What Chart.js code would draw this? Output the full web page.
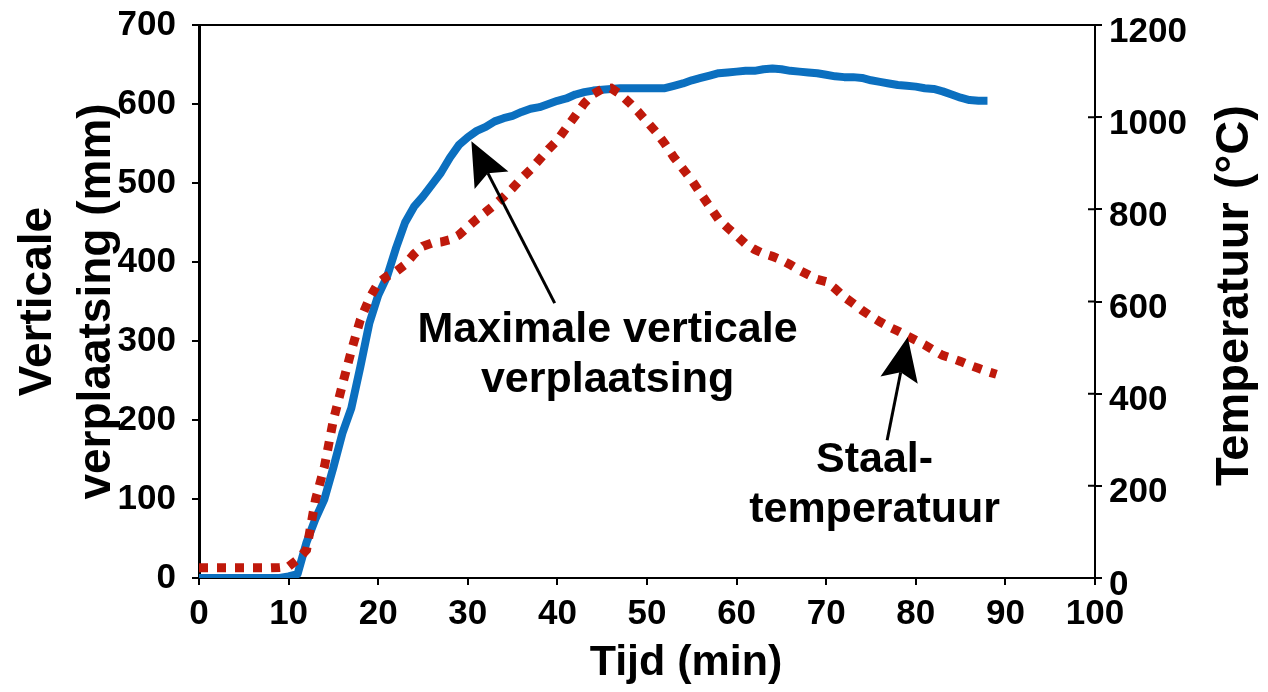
<!DOCTYPE html>
<html>
<head>
<meta charset="utf-8">
<script src="https://cdn.jsdelivr.net/npm/chart.js@4.4.0/dist/chart.umd.min.js"></script>
<style>
  html, body { margin: 0; padding: 0; background: #fff; }
</style>
</head>
<body>
<canvas id="myChart" width="1268" height="692"></canvas>
<script>
// Vertical displacement (mm, left axis) per minute
const tijdVerpl = [
    0, 1, 2, 3, 4, 5, 6, 7, 8, 9,
    10, 11, 12, 13, 14, 15, 16, 17, 18, 19,
    20, 21, 22, 23, 24, 25, 26, 27, 28, 29,
    30, 31, 32, 33, 34, 35, 36, 37, 38, 39,
    40, 41, 42, 43, 44, 45, 46, 47, 48, 49,
    50, 51, 52, 53, 54, 55, 56, 57, 58, 59,
    60, 61, 62, 63, 64, 65, 66, 67, 68, 69,
    70, 71, 72, 73, 74, 75, 76, 77, 78, 79,
    80, 81, 82, 83, 84, 85, 86, 87, 88
];
const verplaatsing = [
    0, 0, 0, 0, 0, 0, 0, 0, 0, 0,
    2, 5, 45, 75, 100, 140, 183, 215, 267, 322,
    358, 382, 418, 450, 470, 483, 498, 513, 532, 548,
    558, 566, 571, 578, 582, 585, 590, 594, 596, 600,
    604, 607, 612, 615, 617, 618, 619, 620, 620, 620,
    620, 620, 620, 623, 626, 630, 633, 636, 639, 640,
    641, 642, 642, 644, 645, 644, 642, 641, 640, 639,
    637, 635, 634, 634, 633, 630, 628, 626, 624, 623,
    622, 620, 619, 616, 612, 608, 605, 604, 604
];

// Steel temperature (°C, right axis) per minute
const tijdStaal = [
    0, 1, 2, 3, 4, 5, 6, 7, 8, 9,
    10, 11, 12, 13, 14, 15, 16, 17, 18, 19,
    20, 21, 22, 23, 24, 25, 26, 27, 28, 29,
    30, 31, 32, 33, 34, 35, 36, 37, 38, 39,
    40, 41, 42, 43, 44, 45, 46, 47, 48, 49,
    50, 51, 52, 53, 54, 55, 56, 57, 58, 59,
    60, 61, 62, 63, 64, 65, 66, 67, 68, 69,
    70, 71, 72, 73, 74, 75, 76, 77, 78, 79,
    80, 81, 82, 83, 84, 85, 86, 87, 88, 89
];
const staalTemp = [
    22, 22, 22, 22, 22, 22, 22, 22, 22, 23,
    25, 40, 61, 170, 242, 343, 419, 493, 560, 606,
    640, 655, 665, 680, 703, 720, 727, 729, 734, 744,
    762, 779, 794, 810, 827, 846, 867, 886, 908, 930,
    950, 977, 1003, 1030, 1050, 1061, 1063, 1050, 1032, 1012,
    990, 968, 942, 913, 888, 863, 834, 806, 778, 760,
    743, 725, 713, 704, 698, 690, 680, 668, 658, 648,
    643, 628, 610, 596, 581, 568, 556, 545, 536, 526,
    516, 506, 494, 483, 477, 470, 462, 455, 448, 442
];

// Annotations, in data units
const labelMax = ['Maximale verticale', 'verplaatsing'];
const labelMaxAt = [45.6, 314];          // min, mm
const arrowMax = [39.7, 348, 30.4, 553];  // from (min, mm) to (min, mm)
const labelStaal = ['Staal-', 'temperatuur'];
const labelStaalAt = [75.4, 256];        // min, °C
const arrowStaal = [76.8, 299, 79.1, 523]; // from (min, °C) to (min, °C)

const FONT = "'Liberation Sans', Arial, Helvetica, sans-serif";
const BLUE = '#0b6fbf';
const RED = '#bf190b';

function toPoints(xs, ys) {
    return xs.map((x, i) => ({ x: x, y: ys[i] }));
}

function drawArrow(ctx, x0, y0, x1, y1) {
    const ang = Math.atan2(y1 - y0, x1 - x0);
    const headLen = 44, headHalf = 19, notch = 8;
    const bx = x1 - headLen * Math.cos(ang);
    const by = y1 - headLen * Math.sin(ang);
    ctx.strokeStyle = '#000';
    ctx.lineWidth = 3;
    ctx.beginPath();
    ctx.moveTo(x0, y0);
    ctx.lineTo(bx + notch * Math.cos(ang), by + notch * Math.sin(ang));
    ctx.stroke();
    ctx.fillStyle = '#000';
    ctx.beginPath();
    ctx.moveTo(x1, y1);
    ctx.lineTo(bx - headHalf * Math.sin(ang), by + headHalf * Math.cos(ang));
    ctx.lineTo(bx + notch * Math.cos(ang), by + notch * Math.sin(ang));
    ctx.lineTo(bx + headHalf * Math.sin(ang), by - headHalf * Math.cos(ang));
    ctx.closePath();
    ctx.fill();
}

function drawLines(ctx, lines, cx, cy) {
    ctx.font = 'bold 43px ' + FONT;
    ctx.fillStyle = '#000';
    ctx.textAlign = 'center';
    ctx.textBaseline = 'middle';
    lines.forEach((s, i) => ctx.fillText(s, cx, cy + i * 50));
}

const overlay = {
    id: 'overlay',
    afterDatasetsDraw(chart) {
        const { ctx, chartArea: a, scales: { x, y, y2 } } = chart;
        ctx.save();
        // top edge of the plot box
        ctx.strokeStyle = '#000';
        ctx.lineWidth = 2;
        ctx.beginPath();
        ctx.moveTo(a.left, a.top);
        ctx.lineTo(a.right, a.top);
        // right axis ticks cross the axis
        y2.ticks.forEach(t => {
            const py = y2.getPixelForValue(t.value);
            ctx.moveTo(a.right - 7, py);
            ctx.lineTo(a.right, py);
        });
        ctx.stroke();

        // arrows
        drawArrow(ctx,
            x.getPixelForValue(arrowMax[0]), y.getPixelForValue(arrowMax[1]),
            x.getPixelForValue(arrowMax[2]), y.getPixelForValue(arrowMax[3]));
        drawArrow(ctx,
            x.getPixelForValue(arrowStaal[0]), y2.getPixelForValue(arrowStaal[1]),
            x.getPixelForValue(arrowStaal[2]), y2.getPixelForValue(arrowStaal[3]));

        // annotation text
        drawLines(ctx, labelMax, x.getPixelForValue(labelMaxAt[0]), y.getPixelForValue(labelMaxAt[1]));
        drawLines(ctx, labelStaal, x.getPixelForValue(labelStaalAt[0]), y2.getPixelForValue(labelStaalAt[1]));

        // x axis title, set a little right of centre as in the source figure
        ctx.font = 'bold 43px ' + FONT;
        ctx.textAlign = 'center';
        ctx.textBaseline = 'middle';
        ctx.fillText('Tijd (min)', (a.left + a.right) / 2 + 39, x.bottom - 29);

        // right axis title, reading bottom to top
        ctx.translate(y2.right - 33, (a.top + a.bottom) / 2 - 6);
        ctx.rotate(-Math.PI / 2);
        ctx.font = 'bold 47px ' + FONT;
        ctx.fillText('Temperatuur (°C)', 0, 0);
        ctx.restore();
    }
};

const tickFont = { family: FONT, size: 35, weight: 'bold' };

// keep tick-label overhang from pushing the plot box down
function noLabelPadding(scale) {
    scale.paddingTop = 0;
    scale.paddingBottom = 0;
}

const ctx = document.getElementById('myChart').getContext('2d');
const chart = new Chart(ctx, {
    type: 'line',
    data: {
        datasets: [
            {
                label: 'Staaltemperatuur',
                data: toPoints(tijdStaal, staalTemp),
                yAxisID: 'y2',
                borderColor: RED,
                borderWidth: 9,
                borderDash: [9, 9],
                borderCapStyle: 'butt',
                pointRadius: 0,
                fill: false,
                order: 0
            },
            {
                label: 'Verticale verplaatsing',
                data: toPoints(tijdVerpl, verplaatsing),
                yAxisID: 'y',
                borderColor: BLUE,
                borderWidth: 8,
                borderJoinStyle: 'round',
                pointRadius: 0,
                fill: false,
                order: 1
            }
        ]
    },
    options: {
        responsive: false,
        animation: false,
        layout: { autoPadding: false, padding: { top: 25, left: 0, right: 0, bottom: 0 } },
        plugins: {
            legend: { display: false },
            tooltip: { enabled: false }
        },
        scales: {
            x: {
                type: 'linear',
                min: 0,
                max: 100,
                ticks: { stepSize: 10, autoSkip: false, maxRotation: 0, font: tickFont, color: '#000', padding: 8 },
                grid: { drawOnChartArea: false, color: '#000', lineWidth: 2, tickLength: 7 },
                border: { color: '#000', width: 2 },
                afterFit(scale) { scale.height = 114; scale.paddingLeft = 0; scale.paddingRight = 0; }
            },
            y: {
                position: 'left',
                min: 0,
                max: 700,
                ticks: { stepSize: 100, font: tickFont, color: '#000', padding: 16 },
                grid: { drawOnChartArea: false, color: '#000', lineWidth: 2, tickLength: 7 },
                border: { color: '#000', width: 3 },
                title: {
                    display: true,
                    text: ['Verticale', 'verplaatsing (mm)'],
                    font: { family: FONT, size: 46, weight: 'bold', lineHeight: 1.3 },
                    color: '#000',
                    padding: { top: 8, bottom: 0 }
                },
                afterFit(scale) { scale.width = 199; noLabelPadding(scale); }
            },
            y2: {
                position: 'right',
                min: 0,
                max: 1200,
                ticks: {
                    stepSize: 200, font: tickFont, color: '#000', padding: 7, labelOffset: 7,
                    callback: v => String(v)
                },
                grid: { drawOnChartArea: false, color: '#000', lineWidth: 2, tickLength: 7 },
                border: { color: '#000', width: 2 },
                afterFit(scale) { scale.width = 173; noLabelPadding(scale); }
            }
        }
    },
    plugins: [overlay]
});
</script>
</body>
</html>
